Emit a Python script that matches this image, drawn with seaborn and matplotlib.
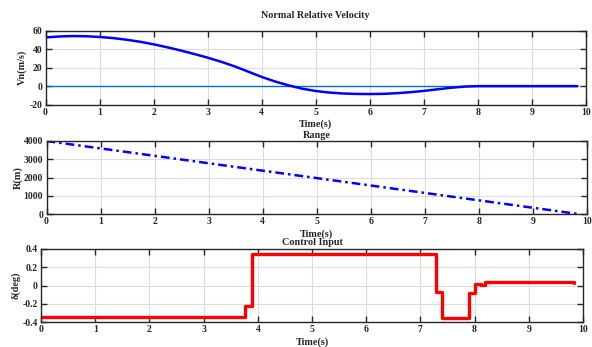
import numpy as np
import pandas as pd
import matplotlib
matplotlib.use("Agg")
import matplotlib.pyplot as plt
import seaborn as sns

# Normal relative velocity (m/s)
t_vn = [0, 0.25, 0.5, 0.75, 1.0, 1.25, 1.5, 1.75, 2.0, 2.25, 2.5, 2.75, 3.0,
        3.25, 3.5, 3.75, 4.0, 4.25, 4.5, 4.75, 5.0, 5.25, 5.5, 5.75, 6.0,
        6.25, 6.5, 6.75, 7.0, 7.25, 7.5, 7.75, 8.0, 8.5, 9.0, 9.5, 9.84]
vn = [53.0, 54.0, 54.5, 54.3, 53.5, 52.3, 50.5, 48.3, 45.5, 42.3, 38.8, 35.0, 31.0,
      26.5, 21.5, 15.8, 10.0, 5.0, 0.8, -2.8, -5.3, -7.0, -8.0, -8.5, -8.6,
      -8.4, -7.7, -6.6, -5.2, -3.5, -1.8, -0.5, 0.0, 0.0, 0.0, 0.0, 0.0]

# Range (m)
t_r = [0, 9.84]
r = [4000, 0]

# Control input (deg)
t_u = [0, 3.77, 3.89, 7.29, 7.40, 7.89, 8.0, 8.11, 8.2, 8.5, 9.0, 9.5, 9.83]
u = [-0.35, -0.22, 0.35, -0.07, -0.355, -0.08, 0.02, 0.005, 0.033, 0.04, 0.038, 0.035, 0.032]

sns.set_theme(style="whitegrid")
plt.rcParams["font.family"] = ["Liberation Serif", "DejaVu Serif"]
plt.rcParams["font.weight"] = "bold"
plt.rcParams["axes.unicode_minus"] = False

W, H = 592, 347
fig = plt.figure(figsize=(W / 100, H / 100), dpi=100)
fig.patch.set_facecolor("white")


def make_axes(left, right, top, bottom):
    return fig.add_axes([left / W, 1 - bottom / H, (right - left) / W, (bottom - top) / H])


ax1 = make_axes(45.5, 586, 31, 104.5)
ax2 = make_axes(46.5, 587, 141, 214)
ax3 = make_axes(41, 583, 249, 322)

df_vn = pd.DataFrame({"t": t_vn, "vn": vn})
df_r = pd.DataFrame({"t": t_r, "r": r})
df_u = pd.DataFrame({"t": t_u, "u": u})

ax1.plot([0, 9.84], [0, 0], color="#0072BD", lw=1.0)
sns.lineplot(data=df_vn, x="t", y="vn", ax=ax1, color="#0000FF", lw=1.8)
sns.lineplot(data=df_r, x="t", y="r", ax=ax2, color="#0000FF", lw=1.8,
             linestyle=(0, (3.5, 1.6, 1.0, 1.6)))
sns.lineplot(data=df_u, x="t", y="u", ax=ax3, color="#FF0000", lw=2.4,
             drawstyle="steps-post")

specs = [
    (ax1, "Normal Relative Velocity", "Vn(m/s)", (-20, 60), [-20, 0, 20, 40, 60],
     ["-20", "0", "20", "40", "60"], 9, -0.034),
    (ax2, "Range", "R(m)", (0, 4000), [0, 1000, 2000, 3000, 4000],
     ["0", "1000", "2000", "3000", "4000"], 2.5, -0.043),
    (ax3, "Control Input", "δ(deg)", (-0.4, 0.4), [-0.4, -0.2, 0, 0.2, 0.4],
     ["-0.4", "-0.2", "0", "0.2", "0.4"], 3, -0.037),
]
for ax, title, ylab, ylim, yt, ytl, tpad, ylx in specs:
    ax.set_facecolor("white")
    ax.set_xlim(0, 10)
    ax.set_ylim(*ylim)
    ax.set_xticks(range(0, 11))
    ax.set_yticks(yt)
    ax.set_yticklabels(ytl)
    ax.set_title(title, fontsize=7.3, fontweight="bold", pad=tpad)
    ax.set_xlabel("Time(s)", fontsize=7.3, fontweight="bold", labelpad=2)
    ax.set_ylabel(ylab, fontsize=7.3, fontweight="bold")
    ax.yaxis.set_label_coords(ylx, 0.5)
    ax.grid(True, color="#dcdcdc", lw=0.8)
    ax.tick_params(direction="in", length=4, width=1, colors="#262626",
                   labelsize=7, pad=2.5, top=True, right=True,
                   bottom=True, left=True, labelcolor="#262626")
    for lab in ax.get_xticklabels() + ax.get_yticklabels():
        lab.set_fontweight("bold")
    for s in ax.spines.values():
        s.set_visible(True)
        s.set_color("#262626")
        s.set_linewidth(1.0)

fig.savefig("out.png", dpi=100, facecolor="white")
